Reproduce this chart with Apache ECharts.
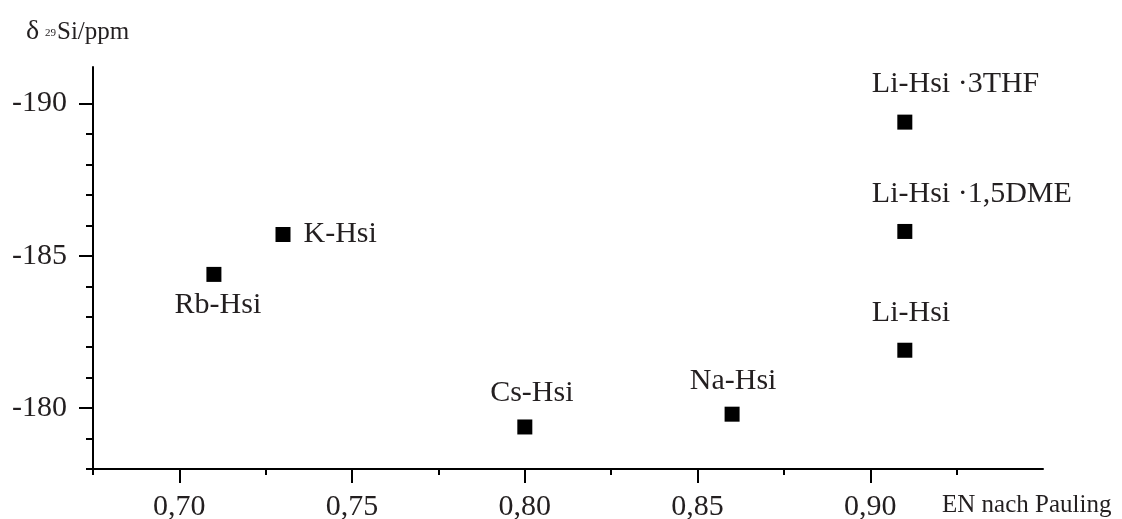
<!DOCTYPE html>
<html><head><meta charset="utf-8">
<script src="https://cdn.jsdelivr.net/npm/echarts@6/dist/echarts.min.js"></script>
<style>html,body{margin:0;padding:0;background:#fff}#c{width:1122px;height:519px}</style>
</head><body><div id="c"></div>
<script>
// ---- data ----
const names = ['Rb-Hsi', 'K-Hsi', 'Cs-Hsi', 'Na-Hsi', 'Li-Hsi', 'Li-Hsi \u00b71,5DME', 'Li-Hsi \u00b73THF'];
const enValues = [0.71, 0.73, 0.80, 0.86, 0.91, 0.91, 0.91];
const shiftValues = [-184.39, -185.70, -179.38, -179.80, -181.90, -185.80, -189.39];
const xMajorTicks = [0.70, 0.75, 0.80, 0.85, 0.90];
const xMinorTicks = [0.675, 0.725, 0.775, 0.825, 0.875, 0.925];
const yMajorTicks = [-190, -185, -180];
const yMinorTicks = [-189, -188, -187, -186, -184, -183, -182, -181, -179, -178];
const xAxisTitle = 'EN nach Pauling';
const yAxisTitleParts = ['\u03b4', '29', 'Si/ppm'];

// ---- styles ----
const FONT = '"Liberation Serif", "Times New Roman", serif';
const TXT = '#231f20';
const labelPlacement = [
  { position: 'bottom', distance: 8, offset: [4, 0] },
  { position: 'right', distance: 13 },
  { position: 'top', distance: 11, offset: [7, 0] },
  { position: 'top', distance: 11, offset: [1, 0] },
  { position: 'top', distance: 15, align: 'left', offset: [-33, 0] },
  { position: 'top', distance: 15, align: 'left', offset: [-33, 0] },
  { position: 'top', distance: 15, align: 'left', offset: [-33, 0] }
];
const gridRect = { left: 93, top: 67, width: 950, height: 402, containLabel: false, outerBoundsMode: 'none' };
const xMin = 0.675, xMax = 0.95, yMin = -191.2, yMax = -178;

const chart = echarts.init(document.getElementById('c'), null, { renderer: 'canvas' });
const axisLine = { show: true, onZero: false, lineStyle: { color: '#000', width: 2 } };

chart.setOption({
  animation: false,
  backgroundColor: '#fff',
  grid: [Object.assign({}, gridRect), Object.assign({}, gridRect)],
  xAxis: [
    {
      type: 'value', gridIndex: 0, min: xMin, max: xMax, position: 'bottom',
      axisLine: axisLine,
      splitLine: { show: false },
      axisTick: { show: true, inside: false, length: 14, customValues: xMajorTicks, lineStyle: { color: '#000', width: 2 } },
      axisLabel: {
        show: true, customValues: xMajorTicks, margin: 23,
        fontFamily: FONT, fontSize: 30, color: TXT,
        formatter: v => v.toFixed(2).replace('.', ',')
      }
    },
    {
      type: 'value', gridIndex: 1, min: xMin, max: xMax, position: 'bottom',
      axisLine: { show: false, onZero: false },
      splitLine: { show: false },
      axisTick: { show: true, inside: false, length: 6, customValues: xMinorTicks, lineStyle: { color: '#000', width: 2 } },
      axisLabel: { show: false }
    }
  ],
  yAxis: [
    {
      type: 'value', gridIndex: 0, min: yMin, max: yMax, inverse: true, position: 'left',
      axisLine: axisLine,
      splitLine: { show: false },
      axisTick: { show: true, inside: false, length: 14, customValues: yMajorTicks, lineStyle: { color: '#000', width: 2 } },
      axisLabel: {
        show: true, customValues: yMajorTicks, margin: 26,
        fontFamily: FONT, fontSize: 30, color: TXT,
        formatter: v => String(v)
      }
    },
    {
      type: 'value', gridIndex: 1, min: yMin, max: yMax, inverse: true, position: 'left',
      axisLine: { show: false, onZero: false },
      splitLine: { show: false },
      axisTick: { show: true, inside: false, length: 7, customValues: yMinorTicks, lineStyle: { color: '#000', width: 2 } },
      axisLabel: { show: false }
    }
  ],
  series: [{
    type: 'scatter',
    xAxisIndex: 0, yAxisIndex: 0,
    symbol: 'rect',
    symbolSize: 15,
    itemStyle: { color: '#000', opacity: 1 },
    label: { show: true, formatter: '{b}', fontFamily: FONT, fontSize: 30, color: TXT, opacity: 1 },
    emphasis: { disabled: true },
    data: names.map((n, i) => ({
      name: n,
      value: [enValues[i], shiftValues[i]],
      label: Object.assign({ show: true }, labelPlacement[i])
    }))
  }],
  graphic: [
    { type: 'text', left: 942, top: 493, style: { text: xAxisTitle, fontFamily: FONT, fontSize: 25, fill: TXT } },
    { type: 'text', x: 26, y: 32, style: { text: yAxisTitleParts[0], fontFamily: FONT, fontSize: 28, fill: TXT, verticalAlign: 'middle' } },
    { type: 'text', x: 45, y: 33.5, style: { text: yAxisTitleParts[1], fontFamily: FONT, fontSize: 11, fill: TXT, verticalAlign: 'middle' } },
    { type: 'text', x: 57, y: 32, style: { text: yAxisTitleParts[2], fontFamily: FONT, fontSize: 25, fill: TXT, verticalAlign: 'middle' } }
  ]
});
</script>
</body></html>
